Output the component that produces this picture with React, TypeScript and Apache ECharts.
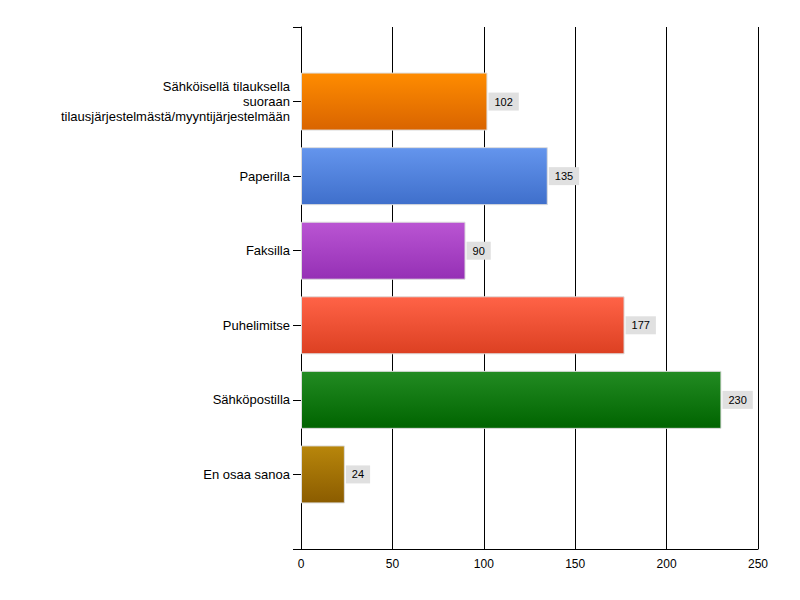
import React, { useEffect, useRef } from "react";
import * as echarts from "echarts";

const categories = [
  "Sähköisellä tilauksella\nsuoraan\ntilausjärjestelmästä/myyntijärjestelmään",
  "Paperilla",
  "Faksilla",
  "Puhelimitse",
  "Sähköpostilla",
  "En osaa sanoa",
];
const values = [102, 135, 90, 177, 230, 24];
const topColors = ["#ff8c00", "#6495ed", "#ba55d3", "#ff6347", "#228b22", "#b8860b"];
const bottomColors = ["#d96400", "#3f6fcb", "#9530b5", "#dc4022", "#006400", "#8b5c00"];
const xTicks = [0, 50, 100, 150, 200, 250];

export default function App() {
  const ref = useRef<HTMLDivElement>(null);
  useEffect(() => {
    if (!ref.current) return;
    const chart = echarts.init(ref.current, null, { renderer: "svg" });
    const yData = ["", ...categories, ""];
    const seriesData: any[] = [null];
    values.forEach((v, i) => {
      seriesData.push({
        value: v,
        itemStyle: {
          color: new echarts.graphic.LinearGradient(0, 0, 0, 1, [
            { offset: 0, color: topColors[i] },
            { offset: 1, color: bottomColors[i] },
          ]),
        },
      });
    });
    seriesData.push(null);
    chart.setOption({
      animation: false,
      backgroundColor: "#ffffff",
      textStyle: { fontFamily: "Liberation Sans, Arial, sans-serif" },
      grid: { left: 301, right: 42, top: 27, bottom: 51, containLabel: false },
      xAxis: {
        type: "value",
        min: xTicks[0],
        max: xTicks[xTicks.length - 1],
        interval: 50,
        axisLine: { show: true, lineStyle: { color: "#000", width: 1 } },
        axisTick: { show: false },
        axisLabel: { color: "#000", fontSize: 12, margin: 9 },
        splitLine: { show: true, lineStyle: { color: "#000", width: 1 } },
      },
      yAxis: {
        type: "category",
        inverse: true,
        data: yData,
        boundaryGap: false,
        axisLine: { show: true, lineStyle: { color: "#000", width: 1 } },
        axisTick: { show: true, length: 8, lineStyle: { color: "#000" } },
        axisLabel: {
          color: "#000",
          fontSize: 13,
          margin: 11,
          lineHeight: 15,
          align: "right",
        },
        splitLine: { show: false },
      },
      series: [
        {
          type: "bar",
          data: seriesData,
          barWidth: 58,
          itemStyle: { borderColor: "#dcdcdc", borderWidth: 1 },
          label: {
            show: true,
            position: "right",
            distance: 1,
            backgroundColor: "#e0e0e0",
            padding: [4, 6, 3, 6],
            color: "#000",
            fontSize: 11,
          },
        },
      ],
    });
    return () => chart.dispose();
  }, []);
  return <div ref={ref} style={{ width: 800, height: 600, position: "absolute", left: 0, top: 0 }} />;
}
